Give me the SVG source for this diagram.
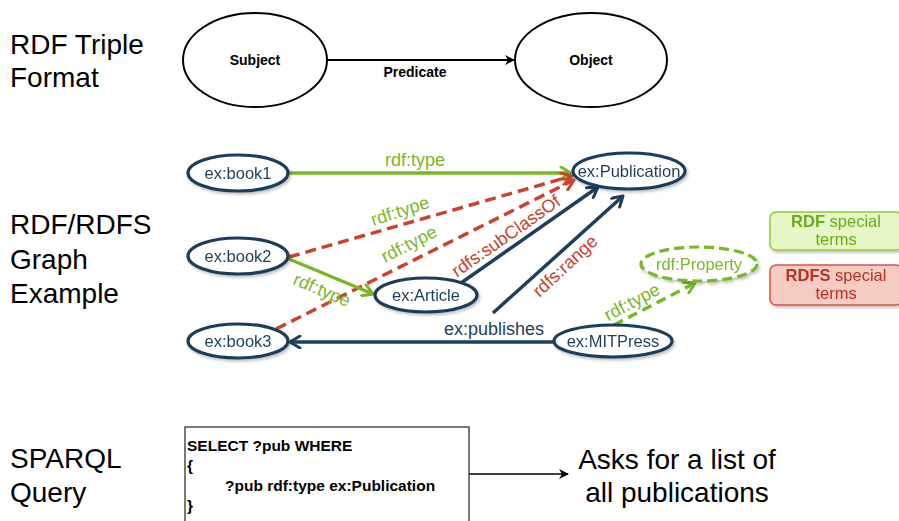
<svg xmlns="http://www.w3.org/2000/svg" width="899" height="521" viewBox="0 0 899 521">
  <defs>
    <style>
      .title { font-family: "Liberation Sans", Arial, sans-serif; font-size: 28px; fill: #000; }
      .bold14 { font-family: "Liberation Sans", Arial, sans-serif; font-size: 14px; font-weight: bold; fill: #000; text-anchor: middle; }
      .triple { fill: #fff; stroke: #000; stroke-width: 2; }
      .node { fill: #fff; stroke: #1f3e5a; stroke-width: 3.2; }
      .nodetxt { font-family: "Liberation Sans", Arial, sans-serif; font-size: 16.5px; fill: #1f3e5a; text-anchor: middle; }
      .lbl { font-family: "Liberation Sans", Arial, sans-serif; font-size: 18px; text-anchor: middle; }
      .legend { font-family: "Liberation Sans", Arial, sans-serif; font-size: 16.5px; text-anchor: middle; }
      .g { fill: #7ab62a; }
      .r { fill: #c8412a; }
      .n { fill: #1f3e5a; }
      .e-green { stroke: #78b828; stroke-width: 3.5; fill: none; }
      .e-red { stroke: #c7452c; stroke-width: 3.5; fill: none; stroke-dasharray: 11 6; }
      .e-navy { stroke: #1f3e5a; stroke-width: 3.5; fill: none; }
      .e-gdash { stroke: #78b828; stroke-width: 3.5; fill: none; stroke-dasharray: 10 6; }
      .code { font-family: "Liberation Sans", Arial, sans-serif; font-size: 15.5px; font-weight: bold; fill: #000; }
    </style>
    <marker id="arrBlack" viewBox="0 0 10 10" refX="9" refY="5" markerWidth="10" markerHeight="10" markerUnits="userSpaceOnUse" orient="auto">
      <path d="M0,0 L10,5 L0,10 L3,5 Z" fill="#000"/>
    </marker>
    <marker id="arrGreen" viewBox="0 0 14 14" refX="12" refY="7" markerWidth="14" markerHeight="14" markerUnits="userSpaceOnUse" orient="auto">
      <path d="M2,1 L12,7 L2,13" fill="none" stroke="#78b828" stroke-width="3" stroke-linecap="round" stroke-linejoin="round"/>
    </marker>
    <marker id="arrRed" viewBox="0 0 14 14" refX="12" refY="7" markerWidth="14" markerHeight="14" markerUnits="userSpaceOnUse" orient="auto">
      <path d="M2,1 L12,7 L2,13" fill="none" stroke="#c7452c" stroke-width="3" stroke-linecap="round" stroke-linejoin="round"/>
    </marker>
    <marker id="arrNavy" viewBox="0 0 14 14" refX="12" refY="7" markerWidth="14" markerHeight="14" markerUnits="userSpaceOnUse" orient="auto">
      <path d="M2,1 L12,7 L2,13" fill="none" stroke="#1f3e5a" stroke-width="3" stroke-linecap="round" stroke-linejoin="round"/>
    </marker>
    <filter id="shadow" x="-20%" y="-30%" width="140%" height="170%">
      <feDropShadow dx="1.5" dy="2" stdDeviation="1.5" flood-color="#000" flood-opacity="0.25"/>
    </filter>
  </defs>

  <rect width="899" height="521" fill="#fff"/>

  <!-- section titles -->
  <g id="titles">
    <text class="title" x="10" y="54">RDF Triple</text>
    <text class="title" x="10" y="87">Format</text>
    <text class="title" x="10" y="234">RDF/RDFS</text>
    <text class="title" x="10" y="269">Graph</text>
    <text class="title" x="10" y="303">Example</text>
    <text class="title" x="10" y="468">SPARQL</text>
    <text class="title" x="10" y="502">Query</text>
  </g>

  <!-- triple pattern -->
  <g id="subject">
    <ellipse class="triple" cx="255" cy="60" rx="72" ry="47"/>
    <text class="bold14" x="255" y="65">Subject</text>
  </g>
  <g id="object">
    <ellipse class="triple" cx="591" cy="60" rx="76" ry="47"/>
    <text class="bold14" x="591" y="65">Object</text>
  </g>

  <!-- connectors -->
  <g id="connectors">
    <line x1="327" y1="60" x2="514" y2="60" stroke="#000" stroke-width="2" marker-end="url(#arrBlack)"/>
    <text class="bold14" x="415" y="77">Predicate</text>

    <line class="e-green" x1="288" y1="173" x2="571" y2="173" marker-end="url(#arrGreen)"/>
    <line class="e-red" x1="289" y1="257" x2="572" y2="176" marker-end="url(#arrRed)"/>
    <line class="e-red" x1="276" y1="329" x2="574" y2="180" marker-end="url(#arrRed)"/>
    <line class="e-green" x1="289" y1="259" x2="373" y2="294" marker-end="url(#arrGreen)"/>
    <line class="e-navy" x1="461" y1="283" x2="598" y2="187" marker-end="url(#arrNavy)"/>
    <line class="e-navy" x1="493" y1="313" x2="623" y2="196" marker-end="url(#arrNavy)"/>
    <line class="e-navy" x1="554" y1="342" x2="290" y2="342" marker-end="url(#arrNavy)"/>
    <line class="e-gdash" x1="614" y1="325" x2="695" y2="283" marker-end="url(#arrGreen)"/>

    <text class="lbl g" x="415" y="166">rdf:type</text>
    <text class="lbl g" transform="translate(400,211) rotate(-18)" y="6">rdf:type</text>
    <text class="lbl g" transform="translate(409,244) rotate(-27)" y="6">rdf:type</text>
    <text class="lbl g" transform="translate(322,290) rotate(23)" y="6">rdf:type</text>
    <text class="lbl r" transform="translate(506,236) rotate(-35)" y="6">rdfs:subClassOf</text>
    <text class="lbl r" transform="translate(565,266) rotate(-43)" y="6">rdfs:range</text>
    <text class="lbl n" x="494" y="335">ex:publishes</text>
    <text class="lbl g" transform="translate(632,302) rotate(-28)" y="6">rdf:type</text>

    <line x1="469" y1="474" x2="568" y2="474" stroke="#000" stroke-width="1.3" marker-end="url(#arrBlack)"/>
  </g>

  <!-- graph nodes -->
  <g id="book1" filter="url(#shadow)">
    <ellipse class="node" cx="238" cy="173" rx="50" ry="18"/>
    <text class="nodetxt" x="238" y="179">ex:book1</text>
  </g>
  <g id="book2" filter="url(#shadow)">
    <ellipse class="node" cx="238" cy="256" rx="50" ry="18"/>
    <text class="nodetxt" x="238" y="262">ex:book2</text>
  </g>
  <g id="book3" filter="url(#shadow)">
    <ellipse class="node" cx="238" cy="341" rx="50" ry="17"/>
    <text class="nodetxt" x="238" y="347">ex:book3</text>
  </g>
  <g id="article" filter="url(#shadow)">
    <ellipse class="node" cx="426" cy="295" rx="51" ry="17"/>
    <text class="nodetxt" x="426" y="301">ex:Article</text>
  </g>
  <g id="publication" filter="url(#shadow)">
    <ellipse class="node" cx="629" cy="171" rx="56" ry="18"/>
    <text class="nodetxt" x="629" y="177">ex:Publication</text>
  </g>
  <g id="mitpress" filter="url(#shadow)">
    <ellipse class="node" cx="613" cy="341" rx="59" ry="16"/>
    <text class="nodetxt" x="613" y="347">ex:MITPress</text>
  </g>
  <g id="property" filter="url(#shadow)">
    <ellipse cx="699" cy="264" rx="58" ry="17" fill="#fff" stroke="#7ab62a" stroke-width="3.2" stroke-dasharray="10 5"/>
    <text class="nodetxt" x="699" y="270" style="fill:#7ab62a">rdf:Property</text>
  </g>

  <!-- legend -->
  <g id="legend-rdf" filter="url(#shadow)">
    <rect x="770" y="212" width="132" height="38" rx="6" fill="#e6f6c4" stroke="#92c83e" stroke-width="1.5"/>
    <text class="legend" x="836" y="227" style="fill:#6aaa1e"><tspan font-weight="bold">RDF</tspan> special</text>
    <text class="legend" x="836" y="245" style="fill:#6aaa1e">terms</text>
  </g>
  <g id="legend-rdfs" filter="url(#shadow)">
    <rect x="770" y="265" width="132" height="40" rx="6" fill="#f5cbc3" stroke="#d05a4a" stroke-width="1.5"/>
    <text class="legend" x="836" y="281" style="fill:#b83020"><tspan font-weight="bold">RDFS</tspan> special</text>
    <text class="legend" x="836" y="299" style="fill:#b83020">terms</text>
  </g>

  <!-- query -->
  <g id="query">
    <rect x="185" y="427" width="284" height="110" fill="#fff" stroke="#333" stroke-width="1.3"/>
    <text class="code" x="187" y="451">SELECT ?pub WHERE</text>
    <text class="code" x="187" y="471">{</text>
    <text class="code" x="225" y="491">?pub rdf:type ex:Publication</text>
    <text class="code" x="187" y="511">}</text>
  </g>
  <g id="result">
    <text class="title" x="677" y="469" text-anchor="middle">Asks for a list of</text>
    <text class="title" x="677" y="502" text-anchor="middle">all publications</text>
  </g>
</svg>
